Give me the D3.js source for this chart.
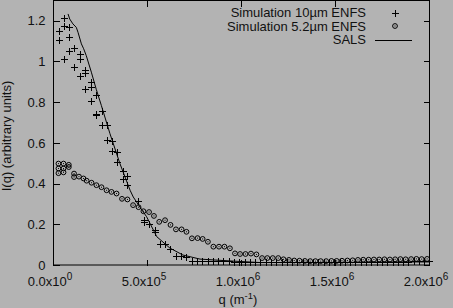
<!DOCTYPE html>
<html><head><meta charset="utf-8">
<script src="https://cdn.jsdelivr.net/npm/d3@7"></script>
<style>
html,body{margin:0;padding:0;background:#b3b3b3;}
svg{display:block;font-family:"Liberation Sans",Arial,sans-serif;}
</style></head><body>
<svg id="c" width="453" height="308"></svg>
<script>
// ---- data ----
const xTicks = [0, 5e5, 1e6, 1.5e6, 2e6];
const xTickMant = ["0.0", "5.0", "1.0", "1.5", "2.0"];
const xTickExp = ["0", "5", "6", "6", "6"];
const yTicks = [0, 0.2, 0.4, 0.6, 0.8, 1, 1.2];
const yTickLabels = ["0", "0.2", "0.4", "0.6", "0.8", "1", "1.2"];
const seriesNames = ["Simulation 10\u00b5m ENFS", "Simulation 5.2\u00b5m ENFS", "SALS"];

// Simulation 10um ENFS (crosses)
const q10 = [32e3,32e3,58e3,58e3,58e3,85e3,85e3,85e3,114e3,114e3,144e3,144e3,144e3,170e3,170e3,170e3,
  200e3,200e3,200e3,229e3,229e3,229e3,258e3,258e3,286e3,286e3,314e3,314e3,342e3,342e3,371e3,371e3,
  396e3,396e3,454e3,484e3,484e3,512e3,540e3,540e3,569e3,596e3,622e3,652e3,681e3,710e3,
  738e3,766e3,794e3,822e3,850e3,878e3,906e3,935e3,963e3,991e3,1019e3,1047e3,1075e3,1103e3,1131e3,
  1159e3,1187e3,1216e3,1244e3,1272e3,1300e3,1328e3,1356e3,1384e3,1412e3,1440e3,1468e3,1497e3,1525e3,
  1553e3,1581e3,1609e3,1637e3,1665e3,1693e3,1721e3,1749e3,1778e3,1806e3,1834e3,1862e3,1890e3,1918e3,
  1946e3,1974e3,2000e3];
const i10 = [1.151,1.105,1.214,1.173,1.011,1.168,1.119,1.049,1.065,0.970,1.036,1.010,0.926,0.960,0.945,0.862,
  0.901,0.874,0.806,0.837,0.743,0.738,0.754,0.690,0.686,0.616,0.610,0.558,0.555,0.504,0.462,0.420,
  0.439,0.394,0.316,0.223,0.211,0.199,0.171,0.163,0.101,0.103,0.081,0.044,0.044,0.038,
  0.020,0.020,0.019,0.019,0.019,0.018,0.018,0.018,0.017,0.017,0.017,0.016,0.016,0.016,0.016,
  0.015,0.015,0.015,0.015,0.015,0.015,0.015,0.015,0.015,0.015,0.015,0.015,0.015,0.015,
  0.015,0.016,0.016,0.016,0.016,0.016,0.016,0.016,0.017,0.017,0.017,0.017,0.017,0.018,
  0.018,0.018,0.018];

// Simulation 5.2um ENFS (circles)
const q52 = [29e3,29e3,29e3,56e3,56e3,56e3,84e3,84e3,112e3,112e3,138e3,162e3,179e3,205e3,231e3,258e3,
  285e3,311e3,338e3,367e3,396e3,426e3,455e3,481e3,511e3,537e3,565e3,596e3,625e3,654e3,684e3,710e3,
  739e3,769e3,796e3,824e3,853e3,883e3,912e3,941e3,968e3,995e3,1024e3,1053e3,1082e3,1112e3,1140e3,
  1169e3,1198e3,1226e3,1255e3,1283e3,1311e3,1340e3,1368e3,1396e3,1424e3,1453e3,1481e3,1509e3,1537e3,
  1566e3,1594e3,1622e3,1650e3,1679e3,1707e3,1735e3,1763e3,1792e3,1820e3,1848e3,1876e3,1905e3,1933e3,
  1961e3,1990e3];
const i52 = [0.498,0.474,0.451,0.498,0.474,0.455,0.492,0.481,0.449,0.432,0.434,0.425,0.414,0.404,0.392,0.382,
  0.367,0.359,0.351,0.325,0.322,0.294,0.284,0.264,0.260,0.241,0.212,0.220,0.197,0.175,0.175,0.163,
  0.131,0.132,0.128,0.114,0.090,0.090,0.090,0.082,0.057,0.054,0.054,0.056,0.052,0.034,0.034,
  0.034,0.034,0.028,0.025,0.022,0.021,0.020,0.019,0.019,0.019,0.019,0.020,0.020,0.021,
  0.022,0.023,0.025,0.026,0.026,0.027,0.027,0.028,0.027,0.028,0.029,0.028,0.029,0.030,
  0.029,0.030];

// SALS (line)
const qSals = [80e3,89e3,106e3,124e3,133e3,151e3,163e3,177e3,204e3,230e3,257e3,303e3,356e3,410e3,427e3,
  463e3,498e3,552e3,622e3,691e3,782e3,941e3,1100e3,1310e3,1600e3,1850e3,2000e3];
const iSals = [1.233,1.208,1.184,1.167,1.143,1.086,1.062,1.028,0.947,0.863,0.784,0.645,0.498,0.367,0.334,
  0.284,0.237,0.139,0.083,0.049,0.029,0.020,0.012,0.012,0.013,0.015,0.015];

// ---- drawing ----
const svg = d3.select("#c");
const X0 = 53, X1 = 429, Y0 = 265, Y1 = 0.3;
const x = d3.scaleLinear().domain([0, 2e6]).range([X0, X1]);
const y = d3.scaleLinear().domain([0, 1.3]).range([Y0, Y1]);
const ink = "#000";
const px = v => Math.round(v) + 0.5;
const FS = 13;

// frame
svg.append("rect").attr("x", X0 + 0.5).attr("y", 0.5).attr("width", X1 - X0).attr("height", Y0 - 0.5)
  .attr("fill", "none").attr("stroke", ink).attr("stroke-width", 1);

// axes ticks (inward) on all four sides
const axL = svg.append("g").attr("transform", `translate(${X0 + 0.5},0)`)
  .call(d3.axisLeft(y).tickValues(yTicks).tickSize(-6).tickPadding(8).tickFormat((d, i) => yTickLabels[i]));
const axR = svg.append("g").attr("transform", `translate(${X1 + 0.5},0)`)
  .call(d3.axisRight(y).tickValues(yTicks).tickSize(-6).tickFormat(""));
const axB = svg.append("g").attr("transform", `translate(0,${Y0 + 0.5})`)
  .call(d3.axisBottom(x).tickValues(xTicks).tickSize(-6).tickFormat(""));
const axT = svg.append("g").attr("transform", `translate(0,0.5)`)
  .call(d3.axisTop(x).tickValues(xTicks).tickSize(-6).tickFormat(""));
[axL, axR, axB, axT].forEach(a => {
  a.select(".domain").remove();
  a.selectAll("line").attr("stroke", ink).attr("shape-rendering", "crispEdges");
});
axL.selectAll("text").attr("font-size", FS).attr("fill", "#111").attr("font-family", "Liberation Sans, Arial, sans-serif");

// x tick labels with superscripts
const xl = svg.append("g");
xTicks.forEach((t, i) => {
  const tx = xl.append("text").attr("x", x(t) - 3).attr("y", 286).attr("text-anchor", "middle")
    .attr("font-size", FS).attr("fill", "#111");
  tx.append("tspan").text(xTickMant[i] + "x10");
  tx.append("tspan").attr("dy", -6).attr("font-size", 10).text(xTickExp[i]);
});

// axis titles
svg.append("text").attr("transform", `translate(11,136) rotate(-90)`).attr("text-anchor", "middle")
  .attr("font-size", FS).attr("fill", "#111").text("I(q) (arbitrary units)");
const xt = svg.append("text").attr("x", 238).attr("y", 304).attr("text-anchor", "middle")
  .attr("font-size", FS).attr("fill", "#111");
xt.append("tspan").text("q (m");
xt.append("tspan").attr("dy", -5).attr("font-size", 9.5).text("-1");
xt.append("tspan").attr("dy", 5).text(")");

// SALS line
svg.append("path").datum(qSals.map((q, i) => [q, iSals[i]]))
  .attr("d", d3.line().x(d => x(d[0])).y(d => y(d[1])))
  .attr("fill", "none").attr("stroke", ink).attr("stroke-width", 1);

// crosses
const crossPath = "M-3.5,0H3.5M0,-3.5V3.5";
svg.append("g").selectAll("path").data(q10.map((q, i) => [q, i10[i]])).join("path")
  .attr("transform", d => `translate(${px(x(d[0]))},${px(y(d[1]))})`)
  .attr("d", crossPath).attr("stroke", ink).attr("stroke-width", 1).attr("fill", "none")
  .attr("shape-rendering", "crispEdges");

// circles with centre dot
const R = 2.4;
const cg = svg.append("g").selectAll("g").data(q52.map((q, i) => [q, i52[i]])).join("g")
  .attr("transform", d => `translate(${x(d[0])},${y(d[1])})`);
cg.append("circle").attr("r", R).attr("fill", "none").attr("stroke", ink).attr("stroke-width", 1);
cg.append("rect").attr("x", -0.5).attr("y", -0.5).attr("width", 1).attr("height", 1).attr("fill", ink);

// legend
const legY = [17, 30.5, 44];
seriesNames.forEach((n, i) => {
  svg.append("text").attr("x", 366).attr("y", legY[i]).attr("text-anchor", "end")
    .attr("font-size", FS).attr("fill", "#111").text(n);
});
svg.append("path").attr("transform", `translate(${px(395)},${px(legY[0] - 4.5)})`)
  .attr("d", crossPath).attr("stroke", ink).attr("fill", "none").attr("shape-rendering", "crispEdges");
const lc = svg.append("g").attr("transform", `translate(395,${legY[1] - 4.5})`);
lc.append("circle").attr("r", R).attr("fill", "none").attr("stroke", ink);
lc.append("rect").attr("x", -0.5).attr("y", -0.5).attr("width", 1).attr("height", 1).attr("fill", ink);
svg.append("line").attr("x1", 375).attr("x2", 412).attr("y1", px(legY[2] - 4.5)).attr("y2", px(legY[2] - 4.5))
  .attr("stroke", ink).attr("shape-rendering", "crispEdges");
</script>
</body></html>
